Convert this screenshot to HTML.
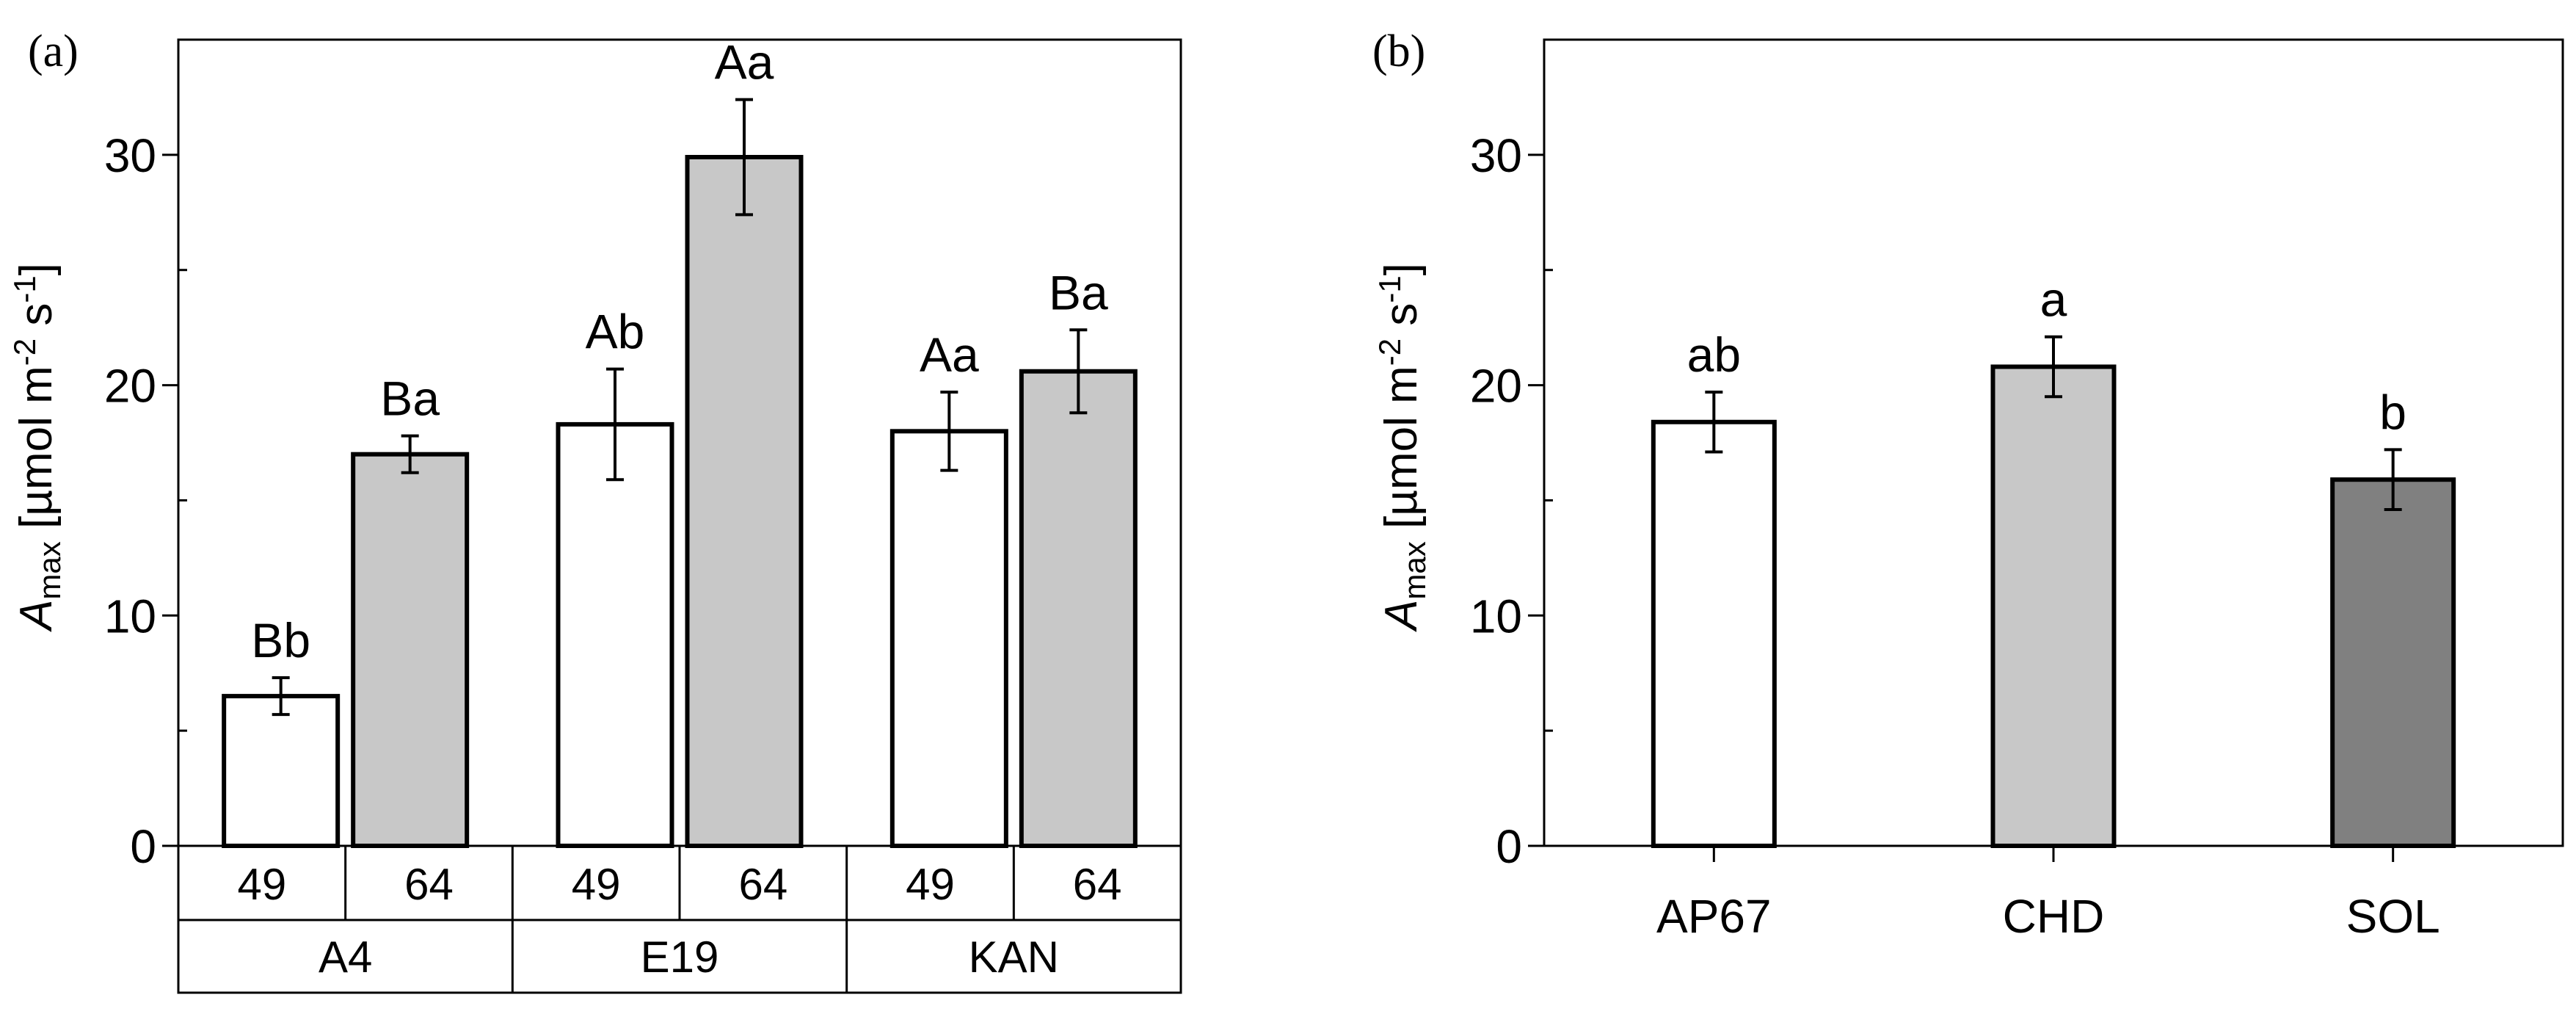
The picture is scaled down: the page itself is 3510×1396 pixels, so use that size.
<!DOCTYPE html>
<html><head><meta charset="utf-8"><style>
html,body{margin:0;padding:0;background:#fff;}
svg{display:block;font-family:"Liberation Sans",sans-serif;}
</style></head><body>
<svg id="fig" width="3510" height="1396" viewBox="0 0 3510 1396"></svg>
<script>
const groupsA = ["A4","E19","KAN"];
const subLabelsA = ["49","64"];
const valuesA = [6.5,17.0,18.3,29.9,18.0,20.6];
const errorsA = [0.8,0.8,2.4,2.5,1.7,1.8];
const lettersA = ["Bb","Ba","Ab","Aa","Aa","Ba"];
const categoriesB = ["AP67","CHD","SOL"];
const valuesB = [18.4,20.8,15.9];
const errorsB = [1.3,1.3,1.3];
const lettersB = ["ab","a","b"];
const yTicks = [0,10,20,30];
const yMinor = [5,15,25];

const NS="http://www.w3.org/2000/svg";
const svg=document.getElementById('fig');
function el(tag,attrs,parent,text){const e=document.createElementNS(NS,tag);for(const k in attrs)e.setAttribute(k,attrs[k]);if(text!==undefined)e.textContent=text;(parent||svg).appendChild(e);return e;}
const Y0=1152, YTOP=54, YMAX=35;
function y(v){return Y0-(v/YMAX)*(Y0-YTOP);}

function axisFrame(L,R,name,labelX,panelLabel,panelX){
  const g=el('g',{});
  
  
  const f=el('rect',{x:L,y:YTOP,width:R-L,height:Y0-YTOP,fill:'none',stroke:'#000','stroke-width':3},g);
  
  
  yTicks.forEach(t=>{
    const ln=el('line',{x1:L-22,x2:L,y1:y(t),y2:y(t),stroke:'#000','stroke-width':3},g);
    
    
    const tx=el('text',{x:L-30,y:y(t)+23,'text-anchor':'end','font-size':64},g,String(t));
    
    
  });
  yMinor.forEach(t=>{
    const ln=el('line',{x1:L,x2:L+12,y1:y(t),y2:y(t),stroke:'#000','stroke-width':3},g);
    
    
  });
  const yt=el('text',{transform:`translate(${labelX},608) rotate(-90)`,'text-anchor':'middle','font-size':62},g);
  
  
  el('tspan',{'font-style':'italic'},yt,'A');
  el('tspan',{'font-size':42,dy:12},yt,'max');
  el('tspan',{dy:-12},yt,' [µmol m');
  el('tspan',{'font-size':42,dy:-22},yt,'-2');
  el('tspan',{dy:22},yt,' s');
  el('tspan',{'font-size':42,dy:-22},yt,'-1');
  el('tspan',{dy:22},yt,']');
  const pl=el('text',{x:panelX,y:90,'font-size':62,'font-family':'"Liberation Serif",serif'},g,panelLabel);
  
  
  return g;
}

function bar(g,cx,w,v,e,fill,letter){
  const r=el('rect',{x:cx-w/2,y:y(v),width:w,height:Y0-y(v),fill:fill,stroke:'#000','stroke-width':6},g);
  
  
  const eb=el('path',{d:`M${cx},${y(v+e)}V${y(v-e)}M${cx-12},${y(v+e)}H${cx+12}M${cx-12},${y(v-e)}H${cx+12}`,stroke:'#000','stroke-width':4,fill:'none'},g);
  
  
  const t=el('text',{x:cx,y:y(v+e)-28,'text-anchor':'middle','font-size':66},g,letter);
  
  
}

// Panel A
const LA=243,RA=1609;
const gA=axisFrame(LA,RA,'panel-a',70,'(a)',38);
const gw=(RA-LA)/groupsA.length;
const bw=155, off=88;
groupsA.forEach((gname,gi)=>{
  const gc=LA+gw*(gi+0.5);
  subLabelsA.forEach((s,si)=>{
    const i=gi*2+si;
    const cx=gc+(si===0?-off:off);
    bar(gA,cx,bw,valuesA[i],errorsA[i],si===0?'#fff':'#c8c8c8',lettersA[i]);
    const st=el('text',{x:LA+gw*gi+gw/4*(si*2+1),y:1225,'text-anchor':'middle','font-size':60},gA,s);
    
    
  });
  const gt=el('text',{x:gc,y:1324,'text-anchor':'middle','font-size':60},gA,gname);
  
  
});
let tp='';
tp+=`M${LA},1152V1352H${RA}V1152M${LA},1253H${RA}`;
for(let i=1;i<6;i++){const x=LA+gw/2*i; tp+=`M${x},1152V${i%2===0?1352:1253}`;}
const tbl=el('path',{d:tp,stroke:'#000','stroke-width':3,fill:'none'},gA);



// Panel B
const LB=2104,RB=3492;
const gB=axisFrame(LB,RB,'panel-b',1930,'(b)',1870);
const fillsB=['#fff','#c8c8c8','#808080'];
const cw=(RB-LB)/categoriesB.length;
categoriesB.forEach((c,i)=>{
  const cx=LB+cw*(i+0.5);
  bar(gB,cx,165,valuesB[i],errorsB[i],fillsB[i],lettersB[i]);
  const tk=el('line',{x1:cx,x2:cx,y1:Y0,y2:Y0+22,stroke:'#000','stroke-width':3},gB);
  
  
  const t=el('text',{x:cx,y:1270,'text-anchor':'middle','font-size':64},gB,c);
  
  
});
</script>
</body></html>
